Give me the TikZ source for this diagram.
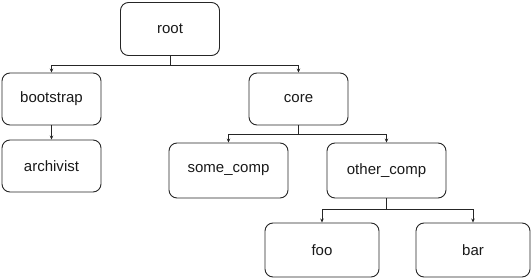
\documentclass[tikz,border=0pt]{standalone}
\usepackage{fontspec}
\setmainfont{Liberation Sans}
\usetikzlibrary{arrows.meta}
\begin{document}
\begin{tikzpicture}[x=1pt,y=-1pt,
  box/.style={draw=black!85, line width=0.9pt, rounded corners=8pt, inner sep=0pt, font=\fontsize{15}{18}\selectfont, text=black!90},
  conn/.style={draw=black!85, line width=0.8pt, -{Stealth[length=4pt,width=3.5pt]}}]
\useasboundingbox (0,0) rectangle (532,278);
\node[box, minimum width=99pt, minimum height=53pt] (root) at (170,29) {root};
\node[box, minimum width=99pt, minimum height=52pt] (bootstrap) at (51.5,99) {bootstrap};
\node[box, minimum width=99pt, minimum height=52pt] (core) at (298.5,99) {core};
\node[box, minimum width=99pt, minimum height=52pt] (archivist) at (51.5,166) {archivist};
\node[box, minimum width=119pt, minimum height=55pt] (some) at (228.5,170.5) {some\_comp};
\node[box, minimum width=119pt, minimum height=55pt] (other) at (386.5,170.5) {other\_comp};
\node[box, minimum width=114pt, minimum height=54pt] (foo) at (322,250) {foo};
\node[box, minimum width=114pt, minimum height=54pt] (bar) at (473,250) {bar};
\coordinate (j1) at (170,65);
\coordinate (j2) at (298.5,134);
\coordinate (j3) at (386.5,209);
\draw[draw=black!85, line width=0.8pt] (root.south) -- (j1);
\draw[conn] (j1) -| (bootstrap.north);
\draw[conn] (j1) -| (core.north);
\draw[conn] (bootstrap.south) -- (archivist.north);
\draw[draw=black!85, line width=0.8pt] (core.south) -- (j2);
\draw[conn] (j2) -| (some.north);
\draw[conn] (j2) -| (other.north);
\draw[draw=black!85, line width=0.8pt] (other.south) -- (j3);
\draw[conn] (j3) -| (foo.north);
\draw[conn] (j3) -| (bar.north);
\end{tikzpicture}
\end{document}
